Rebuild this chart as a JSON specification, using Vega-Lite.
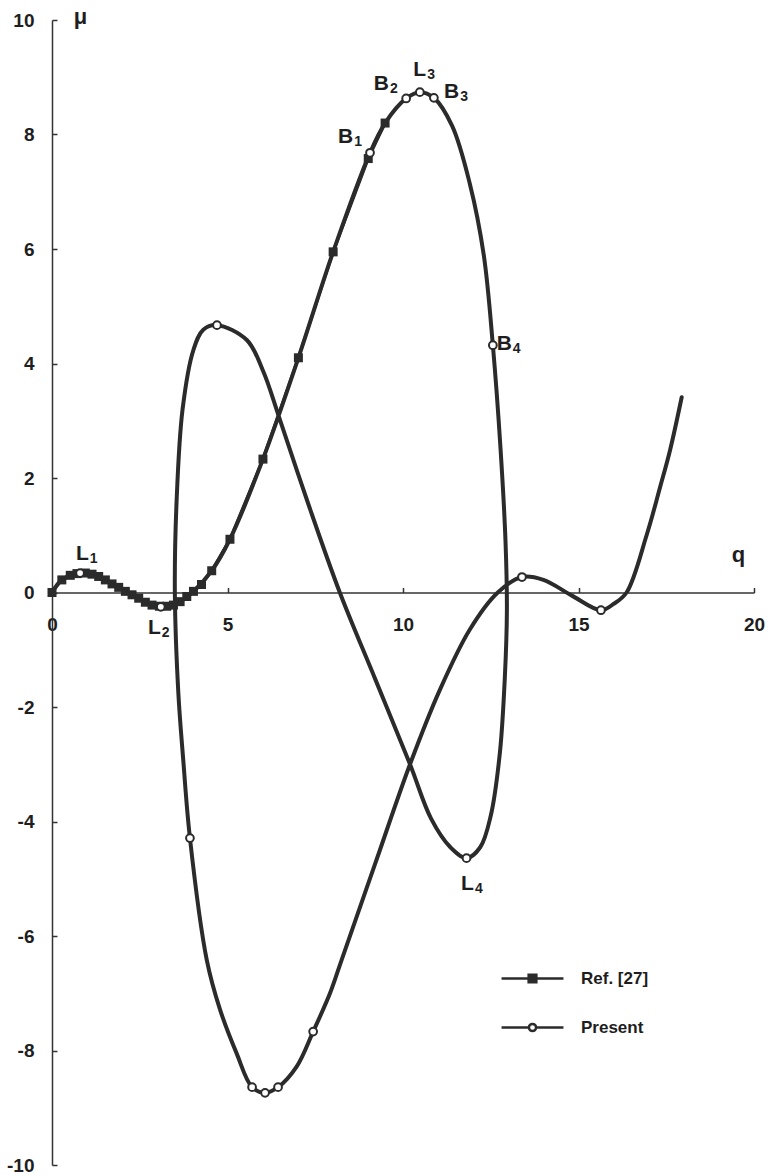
{
  "$schema": "https://vega.github.io/schema/vega-lite/v6.json",
  "width": 702,
  "height": 1145,
  "autosize": {"type": "none"},
  "padding": {"left": 52, "top": 20, "right": 14, "bottom": 10},
  "background": "white",
  "config": {
    "view": {"stroke": null},
    "font": "Liberation Sans",
    "axis": {
      "grid": false,
      "domainColor": "#333333",
      "domainWidth": 1.5,
      "tickColor": "#333333",
      "tickWidth": 1.5,
      "tickSize": -5,
      "labelFont": "Liberation Sans",
      "labelFontSize": 19,
      "labelFontWeight": "bold",
      "labelColor": "#1e1e1e",
      "labelFlush": false,
      "labelOverlap": false,
      "titleFont": "Liberation Sans",
      "titleFontSize": 22,
      "titleFontWeight": "bold",
      "titleColor": "#1e1e1e"
    },
    "legend": {
      "title": null,
      "orient": "none",
      "legendX": 455,
      "legendY": 933,
      "symbolSize": 2304,
      "symbolOpacity": 1,
      "symbolStrokeWidth": 2.5,
      "labelFont": "Liberation Sans",
      "labelFontSize": 17,
      "labelFontWeight": "bold",
      "labelColor": "#1e1e1e",
      "labelOffset": 23,
      "rowPadding": 14,
      "padding": 0
    }
  },
  "datasets": {
    "points": [
      {"series": "Ref. [27]", "q": 0, "mu": 0},
      {"series": "Ref. [27]", "q": 0.28, "mu": 0.22},
      {"series": "Ref. [27]", "q": 0.52, "mu": 0.3},
      {"series": "Ref. [27]", "q": 0.71, "mu": 0.33},
      {"series": "Ref. [27]", "q": 0.95, "mu": 0.34},
      {"series": "Ref. [27]", "q": 1.14, "mu": 0.32},
      {"series": "Ref. [27]", "q": 1.33, "mu": 0.28},
      {"series": "Ref. [27]", "q": 1.52, "mu": 0.22},
      {"series": "Ref. [27]", "q": 1.71, "mu": 0.15},
      {"series": "Ref. [27]", "q": 1.9, "mu": 0.09},
      {"series": "Ref. [27]", "q": 2.09, "mu": 0.02},
      {"series": "Ref. [27]", "q": 2.28, "mu": -0.04},
      {"series": "Ref. [27]", "q": 2.47, "mu": -0.1},
      {"series": "Ref. [27]", "q": 2.66, "mu": -0.17},
      {"series": "Ref. [27]", "q": 2.85, "mu": -0.22},
      {"series": "Ref. [27]", "q": 3.06, "mu": -0.24},
      {"series": "Ref. [27]", "q": 3.27, "mu": -0.24},
      {"series": "Ref. [27]", "q": 3.46, "mu": -0.22},
      {"series": "Ref. [27]", "q": 3.65, "mu": -0.16},
      {"series": "Ref. [27]", "q": 3.84, "mu": -0.07},
      {"series": "Ref. [27]", "q": 4.03, "mu": 0.02},
      {"series": "Ref. [27]", "q": 4.26, "mu": 0.14},
      {"series": "Ref. [27]", "q": 4.55, "mu": 0.38},
      {"series": "Ref. [27]", "q": 5.07, "mu": 0.93},
      {"series": "Ref. [27]", "q": 6.01, "mu": 2.33},
      {"series": "Ref. [27]", "q": 7.02, "mu": 4.1},
      {"series": "Ref. [27]", "q": 8.01, "mu": 5.95},
      {"series": "Ref. [27]", "q": 9.01, "mu": 7.58},
      {"series": "Ref. [27]", "q": 9.49, "mu": 8.2},
      {"series": "Present", "q": 0.8, "mu": 0.34},
      {"series": "Present", "q": 3.1, "mu": -0.25},
      {"series": "Present", "q": 9.06, "mu": 7.68},
      {"series": "Present", "q": 10.09, "mu": 8.63},
      {"series": "Present", "q": 10.48, "mu": 8.74},
      {"series": "Present", "q": 10.88, "mu": 8.64},
      {"series": "Present", "q": 12.56, "mu": 4.32},
      {"series": "Present", "q": 11.81, "mu": -4.64},
      {"series": "Present", "q": 4.7, "mu": 4.67},
      {"series": "Present", "q": 3.93, "mu": -4.29},
      {"series": "Present", "q": 5.7, "mu": -8.64},
      {"series": "Present", "q": 6.07, "mu": -8.74},
      {"series": "Present", "q": 6.44, "mu": -8.64},
      {"series": "Present", "q": 7.44, "mu": -7.67},
      {"series": "Present", "q": 13.39, "mu": 0.27},
      {"series": "Present", "q": 15.64, "mu": -0.31}
    ],
    "present": [
      {"i": 1, "q": 0, "mu": 0},
      {"i": 2, "q": 0.28, "mu": 0.22},
      {"i": 3, "q": 0.8, "mu": 0.34},
      {"i": 4, "q": 1.33, "mu": 0.28},
      {"i": 5, "q": 1.9, "mu": 0.09},
      {"i": 6, "q": 2.47, "mu": -0.1},
      {"i": 7, "q": 3.1, "mu": -0.25},
      {"i": 8, "q": 3.65, "mu": -0.16},
      {"i": 9, "q": 4.03, "mu": 0.02},
      {"i": 10, "q": 4.55, "mu": 0.38},
      {"i": 11, "q": 5.07, "mu": 0.93},
      {"i": 12, "q": 6.01, "mu": 2.33},
      {"i": 13, "q": 7.02, "mu": 4.1},
      {"i": 14, "q": 8.01, "mu": 5.95},
      {"i": 15, "q": 9.06, "mu": 7.68},
      {"i": 16, "q": 9.49, "mu": 8.2},
      {"i": 17, "q": 10.09, "mu": 8.63},
      {"i": 18, "q": 10.48, "mu": 8.74},
      {"i": 19, "q": 10.88, "mu": 8.64},
      {"i": 20, "q": 11.4, "mu": 8.15},
      {"i": 21, "q": 11.9, "mu": 7.15},
      {"i": 22, "q": 12.3, "mu": 5.9},
      {"i": 23, "q": 12.56, "mu": 4.32},
      {"i": 24, "q": 12.78, "mu": 2.5},
      {"i": 25, "q": 12.92, "mu": 0.9},
      {"i": 26, "q": 12.96, "mu": -0.3},
      {"i": 27, "q": 12.9, "mu": -1.5},
      {"i": 28, "q": 12.76, "mu": -2.8},
      {"i": 29, "q": 12.5, "mu": -3.9},
      {"i": 30, "q": 12.2, "mu": -4.45},
      {"i": 31, "q": 11.81, "mu": -4.64},
      {"i": 32, "q": 11.35, "mu": -4.45},
      {"i": 33, "q": 10.8, "mu": -3.95},
      {"i": 34, "q": 10.2, "mu": -3.0},
      {"i": 35, "q": 9.2, "mu": -1.5},
      {"i": 36, "q": 8.2, "mu": 0.0},
      {"i": 37, "q": 7.3, "mu": 1.55},
      {"i": 38, "q": 6.45, "mu": 3.1},
      {"i": 39, "q": 6.02, "mu": 3.86},
      {"i": 40, "q": 5.55, "mu": 4.41},
      {"i": 41, "q": 4.7, "mu": 4.67},
      {"i": 42, "q": 4.31, "mu": 4.59},
      {"i": 43, "q": 4.03, "mu": 4.24},
      {"i": 44, "q": 3.72, "mu": 3.2},
      {"i": 45, "q": 3.55, "mu": 1.6},
      {"i": 46, "q": 3.5, "mu": 0.0},
      {"i": 47, "q": 3.6, "mu": -1.76},
      {"i": 48, "q": 3.74, "mu": -2.93},
      {"i": 49, "q": 3.93, "mu": -4.29},
      {"i": 50, "q": 4.41, "mu": -6.42},
      {"i": 51, "q": 4.79, "mu": -7.29},
      {"i": 52, "q": 5.26, "mu": -8.05},
      {"i": 53, "q": 5.7, "mu": -8.64},
      {"i": 54, "q": 6.07, "mu": -8.74},
      {"i": 55, "q": 6.44, "mu": -8.64},
      {"i": 56, "q": 6.97, "mu": -8.28},
      {"i": 57, "q": 7.44, "mu": -7.67},
      {"i": 58, "q": 7.92, "mu": -7.0},
      {"i": 59, "q": 8.25, "mu": -6.42},
      {"i": 60, "q": 9.2, "mu": -4.75},
      {"i": 61, "q": 10.2, "mu": -3.0},
      {"i": 62, "q": 11.05, "mu": -1.7},
      {"i": 63, "q": 11.9, "mu": -0.65},
      {"i": 64, "q": 12.7, "mu": 0.0},
      {"i": 65, "q": 13.39, "mu": 0.27},
      {"i": 66, "q": 14.0, "mu": 0.22},
      {"i": 67, "q": 14.8, "mu": -0.05},
      {"i": 68, "q": 15.64, "mu": -0.31},
      {"i": 69, "q": 16.0, "mu": -0.2},
      {"i": 70, "q": 16.37, "mu": 0.0},
      {"i": 71, "q": 16.94, "mu": 1.0},
      {"i": 72, "q": 17.32, "mu": 1.83},
      {"i": 73, "q": 17.61, "mu": 2.49},
      {"i": 74, "q": 17.94, "mu": 3.41}
    ],
    "labels": [
      {"q": 1.05, "mu": 0.56, "t": "L", "sub": "1"},
      {"q": 3.1, "mu": -0.72, "t": "L", "sub": "2"},
      {"q": 8.58, "mu": 7.86, "t": "B", "sub": "1"},
      {"q": 9.6, "mu": 8.77, "t": "B", "sub": "2"},
      {"q": 10.66, "mu": 9.03, "t": "L", "sub": "3"},
      {"q": 11.6, "mu": 8.63, "t": "B", "sub": "3"},
      {"q": 13.1, "mu": 4.23, "t": "B", "sub": "4"},
      {"q": 12.02, "mu": -5.2, "t": "L", "sub": "4"}
    ]
  },
  "layer": [
    {
      "data": {"name": "present"},
      "mark": {"type": "line", "interpolate": "catmull-rom", "strokeWidth": 4, "color": "#2b2b2b", "strokeJoin": "round", "strokeCap": "round"},
      "encoding": {
        "x": {
          "field": "q", "type": "quantitative",
          "scale": {"domain": [0, 20], "nice": false, "zero": false},
          "axis": {
            "orient": "bottom", "offset": -572.5, "values": [0, 5, 10, 15, 20],
            "labelExpr": "'' + datum.value",
            "labelPadding": 28,
            "title": "q", "titleAngle": 0, "titleX": 686, "titleY": -31,
            "titleAlign": "center", "titleBaseline": "alphabetic"
          }
        },
        "y": {
          "field": "mu", "type": "quantitative",
          "scale": {"domain": [-10, 10], "nice": false, "zero": false},
          "axis": {
            "values": [-10, -8, -6, -4, -2, 0, 2, 4, 6, 8, 10],
            "labelExpr": "'' + datum.value",
            "labelPadding": 23,
            "title": "μ", "titleAngle": 0, "titleX": 28, "titleY": 3,
            "titleAlign": "center", "titleBaseline": "alphabetic"
          }
        },
        "order": {"field": "i", "type": "quantitative"}
      }
    },
    {
      "data": {"name": "points"},
      "transform": [{"filter": "datum.series === 'Ref. [27]'"}],
      "mark": {"type": "line", "strokeWidth": 3, "color": "#2b2b2b"},
      "encoding": {
        "x": {"field": "q", "type": "quantitative"},
        "y": {"field": "mu", "type": "quantitative"}
      }
    },
    {
      "data": {"name": "points"},
      "transform": [{"filter": "datum.series === 'Ref. [27]'"}],
      "mark": {"type": "square", "size": 81, "color": "#2b2b2b", "opacity": 1},
      "encoding": {
        "x": {"field": "q", "type": "quantitative"},
        "y": {"field": "mu", "type": "quantitative"}
      }
    },
    {
      "data": {"name": "points"},
      "transform": [{"filter": "datum.series === 'Present'"}],
      "mark": {"type": "point", "shape": "circle", "size": 60, "filled": true, "fill": "#ffffff", "stroke": "#2b2b2b", "strokeWidth": 2, "opacity": 1},
      "encoding": {
        "x": {"field": "q", "type": "quantitative"},
        "y": {"field": "mu", "type": "quantitative"}
      }
    },
    {
      "data": {"name": "points"},
      "mark": {"type": "point", "filled": true, "size": 2304, "strokeWidth": 2.5, "opacity": 0},
      "encoding": {
        "x": {"field": "q", "type": "quantitative"},
        "y": {"field": "mu", "type": "quantitative"},
        "shape": {
          "field": "series", "type": "nominal",
          "scale": {"domain": ["Ref. [27]", "Present"], "range": ["M-1.29,0H1.29M-0.16,-0.16H0.16V0.16H-0.16Z", "M-1.29,0H-0.15M0.15,0H1.29M-0.15,0A0.15,0.15 0 1,0 0.15,0A0.15,0.15 0 1,0 -0.15,0Z"]}
        },
        "fill": {
          "field": "series", "type": "nominal",
          "scale": {"domain": ["Ref. [27]", "Present"], "range": ["#2b2b2b", "#ffffff"]}
        },
        "stroke": {
          "field": "series", "type": "nominal",
          "scale": {"domain": ["Ref. [27]", "Present"], "range": ["#2b2b2b", "#2b2b2b"]}
        }
      }
    },
    {
      "data": {"name": "labels"},
      "mark": {"type": "text", "align": "right", "baseline": "alphabetic", "font": "Liberation Sans", "fontSize": 21, "fontWeight": "bold", "color": "#1e1e1e"},
      "encoding": {
        "x": {"field": "q", "type": "quantitative"},
        "y": {"field": "mu", "type": "quantitative"},
        "text": {"field": "t"}
      }
    },
    {
      "data": {"name": "labels"},
      "mark": {"type": "text", "align": "left", "baseline": "alphabetic", "dx": 1, "dy": 3, "font": "Liberation Sans", "fontSize": 14, "fontWeight": "bold", "color": "#1e1e1e"},
      "encoding": {
        "x": {"field": "q", "type": "quantitative"},
        "y": {"field": "mu", "type": "quantitative"},
        "text": {"field": "sub"}
      }
    }
  ]
}
